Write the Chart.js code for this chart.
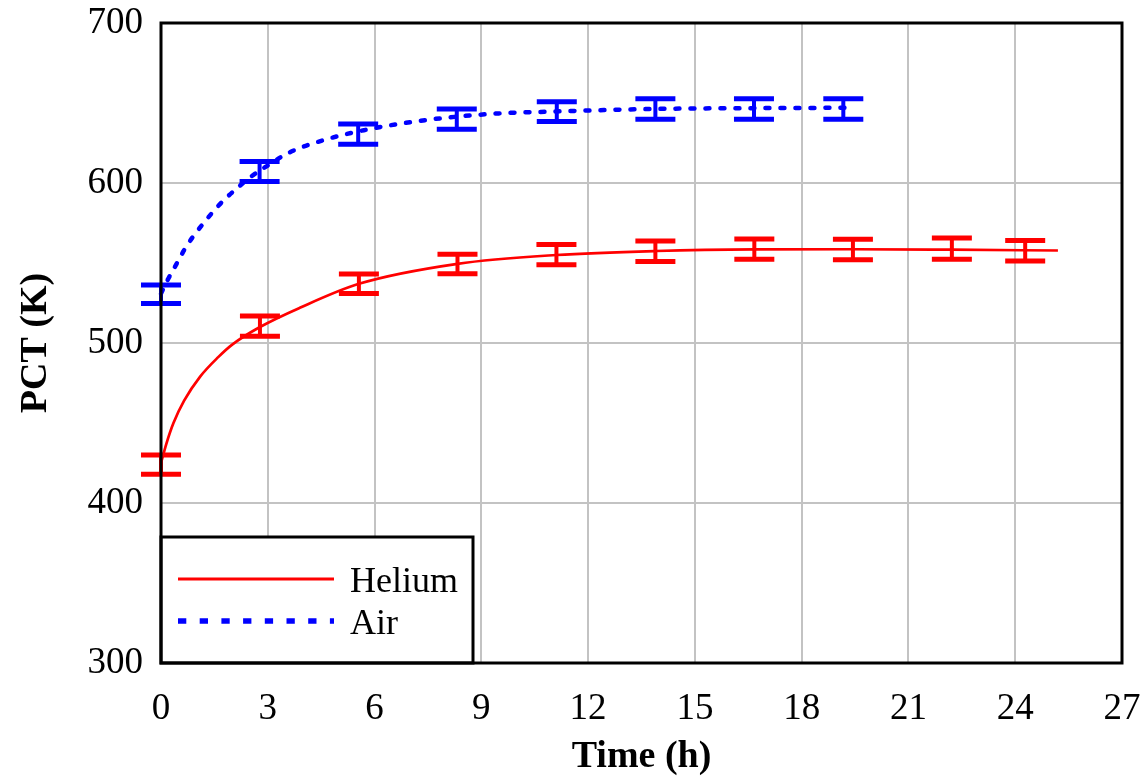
<!DOCTYPE html>
<html>
<head>
<meta charset="utf-8">
<script src="https://cdn.jsdelivr.net/npm/chart.js@4"></script>
<style>
  body { margin: 0; background: #fff; }
</style>
</head>
<body>
<canvas id="pct-chart" width="1144" height="780"></canvas>
<script>
// measured points (time in h, PCT in K, error half-length in K)
const heliumTime = [0, 2.78, 5.56, 8.33, 11.11, 13.89, 16.67, 19.44, 22.22, 24.28];
const heliumPct = [424, 510.5, 537, 549.4, 555.2, 557.4, 558.7, 558.5, 559, 557.6];
const heliumErr = [6.0, 6.3, 6.1, 6.1, 6.3, 6.4, 6.3, 6.4, 6.7, 6.4];

const airTime = [0, 2.77, 5.54, 8.31, 11.12, 13.89, 16.66, 19.17];
const airPct = [530.5, 607.2, 630.5, 639.9, 644.6, 646.3, 646.3, 646.3];
const airErr = [5.8, 6.2, 6.3, 6.3, 6.2, 6.4, 6.4, 6.4];

// fitted curves
const heliumCurveTime = [0, 0.15, 0.35, 0.65, 1.1, 1.6, 2.0, 2.78, 3.9, 5.56, 8.33, 11.1, 13.9, 16.7, 19.4, 22.2, 25.2];
const heliumCurvePct = [425, 437, 450, 464, 479, 491, 499, 510, 522, 537, 549.5, 555, 557.5, 558.5, 558.6, 558.3, 557.8];

const airCurveTime = [0, 0.2, 0.45, 0.65, 0.9, 1.2, 1.5, 1.8, 2.2, 2.5, 2.9, 3.6, 4.6, 5.7, 7.0, 8.1, 9.5, 10.9, 13.9, 16.7, 19.25];
const airCurvePct = [531, 540, 550, 558, 566.5, 575, 583, 590, 598, 603.5, 609.5, 619, 627, 633, 638, 641, 643.5, 644.6, 646.3, 646.8, 647];

const xTicks = [0, 3, 6, 9, 12, 15, 18, 21, 24, 27];
const yTicks = [300, 400, 500, 600, 700];

const RED = '#ff0000';
const BLUE = '#0000ff';
const FONT = "'Liberation Serif', 'Times New Roman', serif";

const toPoints = (xs, ys) => xs.map((x, i) => ({ x: x, y: ys[i] }));

// draws the "I" shaped error bars for datasets that carry an errors array
const errorBars = {
    id: 'errorBars',
    afterDatasetsDraw(chart) {
        const ctx = chart.ctx;
        const yScale = chart.scales.y;
        chart.data.datasets.forEach((ds, di) => {
            if (!ds.errors) return;
            const meta = chart.getDatasetMeta(di);
            ctx.save();
            ctx.strokeStyle = ds.borderColor;
            meta.data.forEach((pt, i) => {
                const v = ds.data[i].y;
                const top = yScale.getPixelForValue(v + ds.errors[i]);
                const bot = yScale.getPixelForValue(v - ds.errors[i]);
                ctx.lineWidth = 4;
                ctx.beginPath();
                ctx.moveTo(pt.x, top);
                ctx.lineTo(pt.x, bot);
                ctx.stroke();
                ctx.lineWidth = 5;
                ctx.beginPath();
                ctx.moveTo(pt.x - 20, top);
                ctx.lineTo(pt.x + 20, top);
                ctx.moveTo(pt.x - 20, bot);
                ctx.lineTo(pt.x + 20, bot);
                ctx.stroke();
            });
            ctx.restore();
        });
    }
};

// boxed legend in the lower left corner + frame round the plot
const boxLegend = {
    id: 'boxLegend',
    afterDraw(chart) {
        const ctx = chart.ctx;
        const area = chart.chartArea;
        const x0 = area.left, y0 = area.bottom - 126, w = 312, h = 126;
        ctx.save();
        ctx.fillStyle = '#fff';
        ctx.fillRect(x0, y0, w, h);
        ctx.strokeStyle = '#000';
        ctx.lineWidth = 3;
        ctx.strokeRect(x0, y0, w, h);

        const items = chart.data.datasets.filter(d => d.inLegend);
        items.forEach((ds, i) => {
            const ly = y0 + 42 + i * 42;
            ctx.strokeStyle = ds.borderColor;
            ctx.lineWidth = ds.borderDash ? 5.5 : 3;
            ctx.setLineDash(ds.borderDash ? [8.3, 13.4] : []);
            ctx.beginPath();
            ctx.moveTo(x0 + 17, ly);
            ctx.lineTo(x0 + 173, ly);
            ctx.stroke();
            ctx.setLineDash([]);
            ctx.fillStyle = '#000';
            ctx.font = '36px ' + FONT;
            ctx.textBaseline = 'alphabetic';
            ctx.fillText(ds.label, x0 + 189, ly + 13);
        });

        ctx.strokeStyle = '#000';
        ctx.lineWidth = 3;
        ctx.strokeRect(area.left, area.top, area.right - area.left, area.bottom - area.top);
        ctx.restore();
    }
};

new Chart(document.getElementById('pct-chart'), {
    type: 'scatter',
    data: {
        datasets: [
            {
                label: 'Helium',
                inLegend: true,
                data: toPoints(heliumCurveTime, heliumCurvePct),
                showLine: true,
                borderColor: RED,
                borderWidth: 2.7,
                pointRadius: 0,
                cubicInterpolationMode: 'monotone'
            },
            {
                label: 'Air',
                inLegend: true,
                data: toPoints(airCurveTime, airCurvePct),
                showLine: true,
                borderColor: BLUE,
                borderWidth: 4.5,
                borderDash: [4, 11],
                borderCapStyle: 'round',
                pointRadius: 0,
                cubicInterpolationMode: 'monotone'
            },
            {
                label: 'Helium data',
                data: toPoints(heliumTime, heliumPct),
                errors: heliumErr,
                borderColor: RED,
                pointRadius: 0
            },
            {
                label: 'Air data',
                data: toPoints(airTime, airPct),
                errors: airErr,
                borderColor: BLUE,
                pointRadius: 0
            }
        ]
    },
    options: {
        responsive: false,
        animation: false,
        clip: false,
        layout: { padding: { top: 23, right: 22, left: 13, bottom: 0 } },
        plugins: {
            legend: { display: false },
            tooltip: { enabled: false }
        },
        scales: {
            x: {
                type: 'linear',
                min: xTicks[0],
                max: xTicks[xTicks.length - 1],
                afterBuildTicks: s => { s.ticks = xTicks.map(v => ({ value: v })); },
                afterFit: s => {
                    s.height = 117;
                    s.paddingLeft = 0;
                    s.paddingRight = 0;
                },
                grid: { color: '#c3c3c3', lineWidth: 2, drawTicks: false },
                border: { display: false },
                ticks: { padding: 24, color: '#000', font: { family: FONT, size: 37 } },
                title: {
                    display: true,
                    text: 'Time (h)',
                    color: '#000',
                    padding: 0,
                    font: { family: FONT, size: 38, weight: 'bold' }
                }
            },
            y: {
                type: 'linear',
                min: yTicks[0],
                max: yTicks[yTicks.length - 1],
                afterBuildTicks: s => { s.ticks = yTicks.map(v => ({ value: v })); },
                afterFit: s => {
                    s.width = 148;
                    s.paddingTop = 0;
                    s.paddingBottom = 0;
                },
                grid: { color: '#c3c3c3', lineWidth: 2, drawTicks: false },
                border: { display: false },
                ticks: { padding: 18, color: '#000', font: { family: FONT, size: 37 } },
                title: {
                    display: true,
                    text: 'PCT (K)',
                    color: '#000',
                    padding: 0,
                    font: { family: FONT, size: 38, weight: 'bold' }
                }
            }
        }
    },
    plugins: [errorBars, boxLegend]
});
</script>
</body>
</html>
